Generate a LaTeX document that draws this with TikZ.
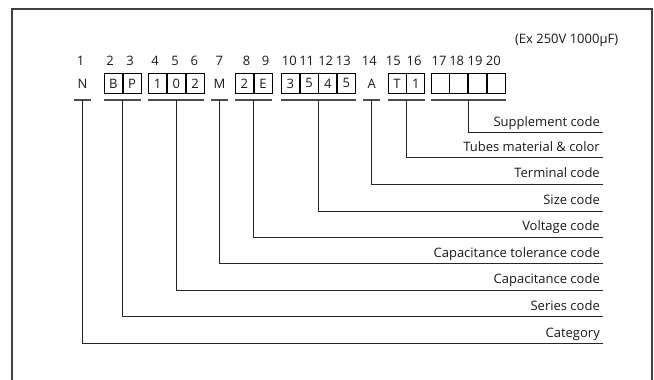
\documentclass[tikz,border=0pt]{standalone}
\usepackage{fontspec}
\setmainfont{Open Sans}
\begin{document}
\begin{tikzpicture}[x=1pt,y=-1pt,
  every node/.style={font=\fontsize{13}{15}\selectfont, text=black!90},
  cell/.style={draw=black, line width=0.9pt, minimum width=17.8pt, minimum height=20.2pt, inner sep=0pt, anchor=west},
  plainch/.style={inner sep=0pt, minimum width=16.5pt, minimum height=20.2pt},
  num/.style={anchor=base, inner sep=0pt},
  uline/.style={line width=1.4pt, draw=black!70},
  conn/.style={line width=1pt, draw=black!85},
  lab/.style={anchor=base east, inner sep=0pt}]
\useasboundingbox (0,0) rectangle (654,380);
\draw[black!75, line width=1.2pt] (12,9) rectangle (652,386);
\coordinate (uy) at (0,100);
% header
\node[lab] (ex) at (618.3,43) {(Ex 250V 1000µF)};
% position numbers
\node[num] (p1) at (80.7,65) {1};
\node[num] (p2) at (110,65) {2};
\node[num] (p3) at (130,65) {3};
\node[num] (p4) at (155,65) {4};
\node[num] (p5) at (175,65) {5};
\node[num] (p6) at (194.3,65) {6};
\node[num] (p7) at (219.3,65) {7};
\node[num] (p8) at (246.7,65) {8};
\node[num] (p9) at (265.7,65) {9};
\node[num] (p10) at (289.3,65) {10};
\node[num] (p11) at (306.7,65) {11};
\node[num] (p12) at (325.7,65) {12};
\node[num] (p13) at (343.3,65) {13};
\node[num] (p14) at (369.3,65) {14};
\node[num] (p15) at (393.3,65) {15};
\node[num] (p16) at (414,65) {16};
\node[num] (p17) at (439,65) {17};
\node[num] (p18) at (456.7,65) {18};
\node[num] (p19) at (475,65) {19};
\node[num] (p20) at (493.3,65) {20};
% characters and cells
\node[plainch] (c1) at (82.5,83.4) {N};
\node[cell] (c2) at (104,83.4) {B};
\node[cell] (c3) at (c2.east) {P};
\node[cell] (c4) at (148.3,83.4) {1};
\node[cell] (c5) at (c4.east) {0};
\node[cell] (c6) at (c5.east) {2};
\node[plainch] (c7) at (219.6,83.4) {M};
\node[cell] (c8) at (235,83.4) {2};
\node[cell] (c9) at (c8.east) {E};
\node[cell] (c10) at (281,83.4) {3};
\node[cell] (c11) at (c10.east) {5};
\node[cell] (c12) at (c11.east) {4};
\node[cell] (c13) at (c12.east) {5};
\node[plainch] (c14) at (371.7,83.4) {A};
\node[cell] (c15) at (387.7,83.4) {T};
\node[cell] (c16) at (c15.east) {1};
\node[cell] (c17) at (430.7,83.4) {};
\node[cell] (c18) at (c17.east) {};
\node[cell] (c19) at (c18.east) {};
\node[cell] (c20) at (c19.east) {};
% underlines
\draw[uline] (c1.west |- uy) -- (c1.east |- uy);
\draw[uline] (c2.west |- uy) -- (c3.east |- uy);
\draw[uline] (c4.west |- uy) -- (c6.east |- uy);
\draw[uline] (c7.west |- uy) -- (c7.east |- uy);
\draw[uline] (c8.west |- uy) -- (c9.east |- uy);
\draw[uline] (c10.west |- uy) -- (c13.east |- uy);
\draw[uline] (c14.west |- uy) -- (c14.east |- uy);
\draw[uline] (c15.west |- uy) -- (c16.east |- uy);
\draw[uline] (c17.west |- uy) -- (c20.east |- uy);
% line ends
\coordinate (e9) at (603,132.7);
\coordinate (e8) at (603,157.5);
\coordinate (e7) at (603,184.3);
\coordinate (e6) at (603,211);
\coordinate (e5) at (603,237);
\coordinate (e4) at (603,263.5);
\coordinate (e3) at (603,290);
\coordinate (e2) at (603,316.5);
\coordinate (e1) at (603,343.5);
% connectors
\draw[conn] (c1.center |- uy) |- (e1);
\draw[conn] (c2.east |- uy) |- (e2);
\draw[conn] (c5.center |- uy) |- (e3);
\draw[conn] (c7.center |- uy) |- (e4);
\draw[conn] (c8.east |- uy) |- (e5);
\draw[conn] (c11.east |- uy) |- (e6);
\draw[conn] (c14.center |- uy) |- (e7);
\draw[conn] (c15.east |- uy) |- (e8);
\draw[conn] (c18.east |- uy) |- (e9);
% labels
\node[lab] (l9) at ([shift={(-3,-6.5)}]e9) {Supplement code};
\node[lab] (l8) at ([shift={(-3,-6.5)}]e8) {Tubes material \& color};
\node[lab] (l7) at ([shift={(-3,-6.5)}]e7) {Terminal code};
\node[lab] (l6) at ([shift={(-3,-6.5)}]e6) {Size code};
\node[lab] (l5) at ([shift={(-3,-6.5)}]e5) {Voltage code};
\node[lab] (l4) at ([shift={(-3,-6.5)}]e4) {Capacitance tolerance code};
\node[lab] (l3) at ([shift={(-3,-6.5)}]e3) {Capacitance code};
\node[lab] (l2) at ([shift={(-3,-6.5)}]e2) {Series code};
\node[lab] (l1) at ([shift={(-3,-6.5)}]e1) {Category};
\end{tikzpicture}
\end{document}
